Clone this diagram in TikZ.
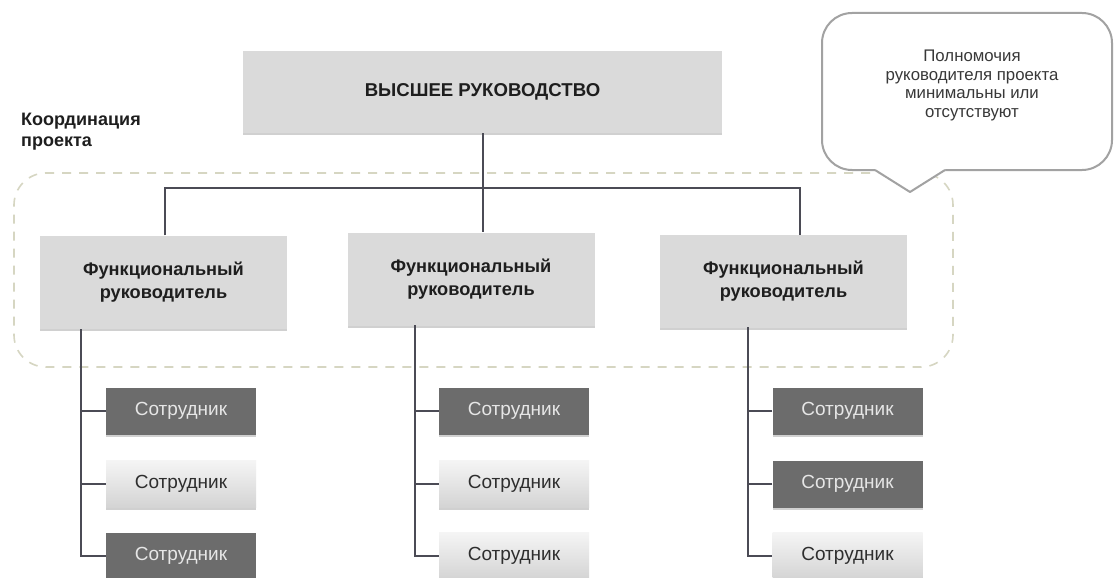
\documentclass[tikz,border=0pt]{standalone}
\usepackage{fontspec}
\setmainfont{Liberation Sans}
\usetikzlibrary{shadows,calc}
\definecolor{boxgray}{HTML}{DADADA}
\definecolor{empdark}{HTML}{6C6C6C}
\definecolor{emptext}{HTML}{E6E6E6}
\definecolor{linecol}{HTML}{4B4B55}
\definecolor{dashcol}{HTML}{D6D6C2}
\definecolor{callcol}{HTML}{A2A2A2}
\definecolor{txtdark}{HTML}{1E1E1E}
\begin{document}
\begin{tikzpicture}[x=1pt,y=-1pt,
  shad/.style={drop shadow={shadow xshift=0pt, shadow yshift=-2.2pt, opacity=0.3, fill=black!60}},
  topbox/.style={fill=boxgray, minimum width=479, minimum height=82, inner sep=0, shad,
     font=\fontsize{18.6}{22}\selectfont\bfseries, text=txtdark},
  funcbox/.style={fill=boxgray, minimum width=247, minimum height=93, inner sep=0, shad,
     align=center, font=\fontsize{18.2}{23}\selectfont\bfseries, text=txtdark},
  emp/.style={minimum width=150, minimum height=47, inner sep=0, shad,
     font=\fontsize{19}{20}\selectfont},
  empdk/.style={emp, fill=empdark, text=emptext},
  emplt/.style={emp, top color=black!4, bottom color=black!17, text=black!82},
  conn/.style={draw=linecol, line width=2pt},
  coordbox/.style={draw=dashcol, line width=1.6pt, dash pattern=on 9pt off 8pt, rounded corners=32,
     minimum width=939, minimum height=194, inner sep=0},
  callbox/.style={draw=callcol, line width=2pt, fill=white, rounded corners=30,
     minimum width=290, minimum height=157, inner sep=0},
  calltext/.style={align=center, font=\fontsize{16.8}{18.4}\selectfont, text=black!78},
  coordlabel/.style={align=left, anchor=west, font=\fontsize{18}{21}\selectfont\bfseries, text=txtdark, inner sep=0}
]
\clip (0,0) rectangle (1114,578);
\fill[white] (0,0) rectangle (1114,578);

% dashed project coordination area
\node[coordbox] (area) at (483.5,270) {};
\node[coordlabel] (lbl) at (21,132) {Координация\\проекта};

% boxes
\node[topbox] (top) at (482.5,92) {ВЫСШЕЕ РУКОВОДСТВО};
\node[funcbox] (f1) at (163.5,282) {Функциональный\\руководитель};
\node[funcbox] (f2) at (471,279) {Функциональный\\руководитель};
\node[funcbox] (f3) at (783.5,281.5) {Функциональный\\руководитель};

\node[empdk] (e11) at (181,411) {Сотрудник};
\node[emplt] (e12) at (181,484) {Сотрудник};
\node[empdk] (e13) at (181,556) {Сотрудник};

\node[empdk] (e21) at (514,411) {Сотрудник};
\node[emplt] (e22) at (514,484) {Сотрудник};
\node[emplt] (e23) at (514,556) {Сотрудник};

\node[empdk] (e31) at (847.5,411) {Сотрудник};
\node[empdk] (e32) at (847.5,484) {Сотрудник};
\node[emplt] (e33) at (847.5,556) {Сотрудник};

% connectors top -> functional managers
\coordinate (jl) at (165,188);
\coordinate (jr) at (800,188);
\draw[conn] (top.south) -- (top.south |- f2.north);
\draw[conn] (jl |- f1.north) -- (jl) -- (jr) -- (jr |- f3.north);

% connectors functional managers -> employees
\coordinate (v1) at (81,329);
\coordinate (v2) at (415,325);
\coordinate (v3) at (748,327);
\draw[conn] (v1) |- (e13.west);
\draw[conn] (e11.west) -- (e11.west -| v1);
\draw[conn] (e12.west) -- (e12.west -| v1);
\draw[conn] (v2) |- (e23.west);
\draw[conn] (e21.west) -- (e21.west -| v2);
\draw[conn] (e22.west) -- (e22.west -| v2);
\draw[conn] (v3) |- (e33.west);
\draw[conn] (e31.west) -- (e31.west -| v3);
\draw[conn] (e32.west) -- (e32.west -| v3);

% callout
\node[callbox] (call) at (967,91.5) {};
\coordinate (tip) at (910,192);
\coordinate (pl) at (875,170);
\coordinate (pr) at (945,170);
\fill[white] ($(pl)+(0,-2.5)$) -- ($(pr)+(0,-2.5)$) -- ($(pr)+(0,1.5)$) -- (tip) -- ($(pl)+(0,1.5)$) -- cycle;
\draw[draw=callcol, line width=2pt, line join=round] (pl) -- (tip) -- (pr);
\node[calltext] (calltxt) at (972,85.5) {Полномочия\\руководителя проекта\\минимальны или\\отсутствуют};
\end{tikzpicture}
\end{document}
